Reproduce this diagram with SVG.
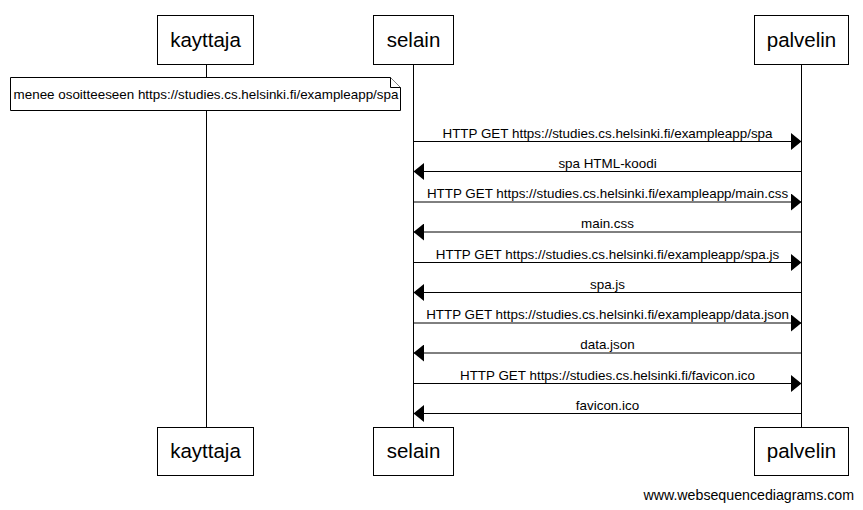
<svg xmlns="http://www.w3.org/2000/svg" width="863" height="510" viewBox="0 0 863 510">
<style>
.box{fill:#fff;stroke:#000;stroke-width:1}
.life{stroke:#000;stroke-width:1}
.pt{font-family:"Liberation Sans",Arial,sans-serif;font-size:20.5px;text-anchor:middle;fill:#000}
.lbl{font-family:"Liberation Sans",Arial,sans-serif;font-size:13.4px;text-anchor:middle;fill:#000}
.msg{stroke:#000;stroke-width:1;fill:none}
.note{fill:#fff;stroke:#000;stroke-width:1}
</style>
<defs>
<marker id="ah" markerWidth="11" markerHeight="17" refX="10.5" refY="8.5" orient="auto" markerUnits="userSpaceOnUse">
<path d="M0,0 L10.5,8.5 L0,17 Z" fill="#000"/>
</marker>
</defs>
<g id="lifelines">
<line class="life" x1="206.5" y1="64" x2="206.5" y2="427"/>
<line class="life" x1="413.5" y1="64" x2="413.5" y2="427"/>
<line class="life" x1="801.5" y1="64" x2="801.5" y2="427"/>
</g>
<g id="kayttaja-top"><rect class="box" x="157.5" y="15.5" width="96" height="49"/><text class="pt" x="205.5" y="47">kayttaja</text></g>
<g id="selain-top"><rect class="box" x="373.5" y="15.5" width="80" height="49"/><text class="pt" x="413.5" y="47">selain</text></g>
<g id="palvelin-top"><rect class="box" x="754.5" y="15.5" width="94" height="49"/><text class="pt" x="801.5" y="47">palvelin</text></g>
<g id="kayttaja-bottom"><rect class="box" x="157.5" y="427.5" width="96" height="48"/><text class="pt" x="205.5" y="458">kayttaja</text></g>
<g id="selain-bottom"><rect class="box" x="373.5" y="427.5" width="80" height="48"/><text class="pt" x="413.5" y="458">selain</text></g>
<g id="palvelin-bottom"><rect class="box" x="754.5" y="427.5" width="94" height="48"/><text class="pt" x="801.5" y="458">palvelin</text></g>
<g id="note">
<path class="note" d="M10.5,77.5 H390.5 L400.5,87.5 V110.5 H10.5 Z"/>
<path class="note" d="M390.5,77.5 V87.5 H400.5" fill="none"/>
<text class="lbl" x="206" y="99">menee osoitteeseen https://studies.cs.helsinki.fi/exampleapp/spa</text>
</g>
<g id="connectors">
<line class="msg" x1="413.5" y1="141.5" x2="801.5" y2="141.5" marker-end="url(#ah)"/>
<text class="lbl" x="607.5" y="137.5">HTTP GET https://studies.cs.helsinki.fi/exampleapp/spa</text>
<line class="msg" x1="801.5" y1="171.5" x2="413.5" y2="171.5" marker-end="url(#ah)"/>
<text class="lbl" x="607.5" y="167.5">spa HTML-koodi</text>
<line class="msg" x1="413.5" y1="202" x2="801.5" y2="202" marker-end="url(#ah)"/>
<text class="lbl" x="607.5" y="198">HTTP GET https://studies.cs.helsinki.fi/exampleapp/main.css</text>
<line class="msg" x1="801.5" y1="232" x2="413.5" y2="232" marker-end="url(#ah)"/>
<text class="lbl" x="607.5" y="228">main.css</text>
<line class="msg" x1="413.5" y1="262.5" x2="801.5" y2="262.5" marker-end="url(#ah)"/>
<text class="lbl" x="607.5" y="258.5">HTTP GET https://studies.cs.helsinki.fi/exampleapp/spa.js</text>
<line class="msg" x1="801.5" y1="292.5" x2="413.5" y2="292.5" marker-end="url(#ah)"/>
<text class="lbl" x="607.5" y="288.5">spa.js</text>
<line class="msg" x1="413.5" y1="323" x2="801.5" y2="323" marker-end="url(#ah)"/>
<text class="lbl" x="607.5" y="319">HTTP GET https://studies.cs.helsinki.fi/exampleapp/data.json</text>
<line class="msg" x1="801.5" y1="353" x2="413.5" y2="353" marker-end="url(#ah)"/>
<text class="lbl" x="607.5" y="349">data.json</text>
<line class="msg" x1="413.5" y1="383.5" x2="801.5" y2="383.5" marker-end="url(#ah)"/>
<text class="lbl" x="607.5" y="379.5">HTTP GET https://studies.cs.helsinki.fi/favicon.ico</text>
<line class="msg" x1="801.5" y1="413.5" x2="413.5" y2="413.5" marker-end="url(#ah)"/>
<text class="lbl" x="607.5" y="409.5">favicon.ico</text>
</g>
<text x="854" y="500" font-family="Liberation Sans,Arial,sans-serif" font-size="14.2" text-anchor="end" fill="#000">www.websequencediagrams.com</text>
</svg>
